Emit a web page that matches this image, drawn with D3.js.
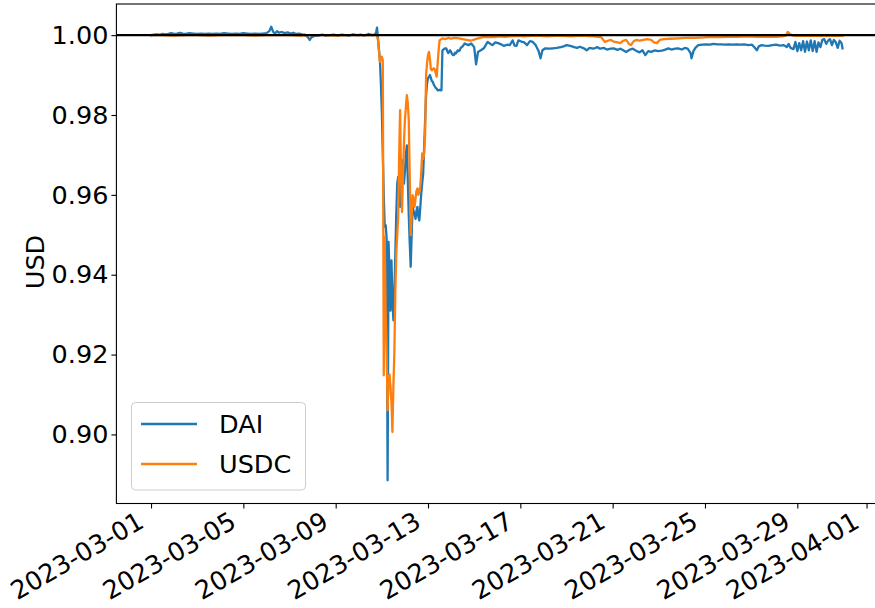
<!DOCTYPE html>
<html>
<head>
<meta charset="utf-8">
<script src="https://cdn.jsdelivr.net/npm/d3@7"></script>
<style>
body {margin: 0; background: #fff;}
text {font-family: "DejaVu Sans", sans-serif;}
</style>
</head>
<body>
<div id="chart"></div>
<script>
// series points: [hours since 2023-03-01 00:00 UTC, price in USD]
const daiPreDip = [[0,1.0000],[3,1.0001],[6,1.0002],[9,1.0001],[12,1.0003],[15,1.0002],[18,1.0003],[21,1.0005],[24,1.0003],[27,1.0004],[30,1.0006],[33,1.0004],[36,1.0003],[40,1.0005],[44,1.0004],[48,1.0003],[52,1.0004],[56,1.0003],[60,1.0004],[64,1.0003],[68,1.0004],[72,1.0003],[76,1.0005],[80,1.0004],[84,1.0003],[88,1.0004],[92,1.0003],[96,1.0005],[100,1.0004],[104,1.0003],[108,1.0004],[112,1.0003],[116,1.0004],[120,1.0005],[123,1.0010],[125,1.0021],[127,1.0008],[129,1.0004],[131,1.0010],[133,1.0006],[136,1.0008],[139,1.0005],[142,1.0007],[145,1.0004],[148,1.0006],[151,1.0003],[154,1.0004],[157,1.0002],[160,1.0001],[163,0.9995],[165,0.9988],[167,0.9995],[170,0.9998],[174,0.9999],[178,1.0001],[182,0.9999],[186,1.0000],[190,1.0001],[194,0.9999],[198,1.0001],[202,1.0000],[206,0.9999],[210,1.0002],[214,1.0000],[218,1.0001],[222,0.9999],[226,1.0003],[229,1.0001],[232,1.0000],[234,1.0006]];
const daiDip = [[235,1.0019],[236,0.9992],[237,0.9965],[238,0.9937],[239,0.9880],[240,0.9808],[241,0.9700],[242,0.9600],[243,0.9520],[244,0.9524],[245,0.9490],[246,0.8885],[247,0.9482],[248,0.9400],[249,0.9310],[250,0.9436],[251,0.9340],[252,0.9286],[253,0.9353],[254,0.9450],[255,0.9550],[256,0.9628],[257,0.9645],[258,0.9600],[259,0.9570],[260,0.9640],[261,0.9687],[262,0.9660],[263,0.9628],[264,0.9660],[265,0.9700],[266,0.9724],[267,0.9637],[268,0.9550],[269,0.9480],[270,0.9420],[271,0.9500],[272,0.9570],[273,0.9560],[274,0.9553],[275,0.9540],[276,0.9560],[277,0.9570],[278,0.9545],[279,0.9536],[280,0.9570],[281,0.9604],[282,0.9630],[283,0.9654],[284,0.9720],[285,0.9787],[286,0.9850],[287,0.9879],[288,0.9892],[289,0.9895],[290,0.9900],[291,0.9893],[292,0.9885],[293,0.9883],[294,0.9876],[295,0.9872],[296,0.9868],[297,0.9866],[298,0.9862],[299,0.9862],[300,0.9863],[301,0.9862],[302,0.9862],[303,0.9962],[304,0.9964],[305,0.9966],[306,0.9967],[307,0.9967],[308,0.9960],[309,0.9955],[310,0.9958],[311,0.9962],[312,0.9958],[313,0.9953],[314,0.9950],[315,0.9950],[316,0.9956],[317,0.9954],[318,0.9958],[319,0.9962],[320,0.9960],[321,0.9962],[322,0.9968],[324,0.9972]];
const daiPostDip = [[326,0.9979],[330,0.9975],[333,0.9979],[336,0.9970],[338,0.9927],[340,0.9958],[343,0.9962],[346,0.9967],[350,0.9983],[353,0.9978],[355,0.9975],[358,0.9982],[361,0.9980],[364,0.9977],[367,0.9973],[370,0.9976],[373,0.9975],[376,0.9987],[378,0.9974],[380,0.9973],[382,0.9987],[385,0.9984],[388,0.9982],[391,0.9975],[394,0.9985],[397,0.9983],[400,0.9975],[403,0.9960],[405,0.9942],[407,0.9962],[410,0.9967],[414,0.9966],[418,0.9967],[422,0.9968],[426,0.9970],[429,0.9972],[432,0.9975],[436,0.9973],[440,0.9970],[443,0.9968],[446,0.9971],[450,0.9967],[453,0.9962],[456,0.9968],[460,0.9966],[464,0.9970],[467,0.9966],[471,0.9968],[474,0.9964],[478,0.9966],[481,0.9967],[485,0.9963],[488,0.9966],[491,0.9962],[494,0.9958],[498,0.9964],[501,0.9966],[505,0.9960],[508,0.9957],[511,0.9962],[514,0.9950],[517,0.9960],[520,0.9958],[524,0.9962],[527,0.9960],[531,0.9961],[534,0.9963],[538,0.9967],[541,0.9964],[545,0.9966],[548,0.9967],[552,0.9964],[555,0.9968],[558,0.9966],[561,0.9955],[562,0.9942],[564,0.9960],[566,0.9968],[569,0.9975],[573,0.9976],[577,0.9977],[581,0.9976],[585,0.9978],[589,0.9977],[593,0.9977],[597,0.9976],[601,0.9977],[605,0.9976],[609,0.9977],[613,0.9976],[617,0.9977],[621,0.9975],[625,0.9976],[628,0.9968],[630,0.9962],[632,0.9972],[635,0.9975],[638,0.9974],[642,0.9973],[646,0.9975],[650,0.9976],[654,0.9974],[658,0.9975],[661,0.9970],[663,0.9978],[665,0.9968],[668,0.9965],[670,0.9983],[672,0.9960],[674,0.9980],[676,0.9962],[678,0.9985],[680,0.9958],[682,0.9984],[684,0.9962],[686,0.9987],[688,0.9960],[690,0.9985],[692,0.9958],[694,0.9982],[696,0.9970],[698,0.9988],[700,0.9990],[702,0.9978],[704,0.9986],[706,0.9990],[708,0.9975],[710,0.9988],[712,0.9982],[714,0.9968],[716,0.9986],[718,0.9980],[719,0.9967]];

const usdcPreDip = [[0,1.0000],[12,1.0000],[24,0.9999],[36,1.0000],[48,1.0000],[60,0.9999],[72,1.0000],[84,1.0000],[96,1.0000],[108,0.9999],[120,1.0000],[132,1.0000],[144,1.0000],[156,0.9999],[168,1.0000],[180,1.0000],[192,0.9999],[204,1.0000],[216,1.0000],[228,1.0000],[234,1.0000]];
const usdcDip = [[235,0.9998],[236,0.9987],[237,0.9960],[238,0.9933],[239,0.9940],[240,0.9946],[241,0.9937],[242,0.9148],[243,0.9495],[244,0.9300],[245,0.9210],[246,0.9060],[247,0.9140],[248,0.9150],[249,0.9119],[250,0.9080],[251,0.9006],[252,0.9120],[253,0.9203],[254,0.9350],[255,0.9454],[256,0.9500],[257,0.9545],[258,0.9700],[259,0.9812],[260,0.9637],[261,0.9557],[262,0.9650],[263,0.9730],[264,0.9787],[265,0.9820],[266,0.9850],[267,0.9830],[268,0.9787],[269,0.9650],[270,0.9499],[271,0.9550],[272,0.9599],[273,0.9590],[274,0.9570],[275,0.9590],[276,0.9610],[277,0.9616],[278,0.9600],[279,0.9610],[280,0.9620],[281,0.9660],[282,0.9704],[283,0.9690],[284,0.9704],[285,0.9750],[286,0.9900],[287,0.9930],[288,0.9950],[289,0.9958],[290,0.9940],[291,0.9915],[292,0.9912],[293,0.9915],[294,0.9917],[295,0.9915],[296,0.9905],[297,0.9896],[298,0.9929],[299,0.9960],[300,0.9987]];
const usdcPostDip = [[303,0.9992],[306,0.9990],[309,0.9993],[312,0.9991],[316,0.9993],[320,0.9992],[324,0.9990],[328,0.9988],[332,0.9986],[336,0.9989],[340,0.9992],[345,0.9995],[350,0.9996],[356,0.9995],[362,0.9997],[368,0.9996],[374,0.9997],[380,0.9998],[388,0.9997],[396,0.9998],[404,0.9998],[412,0.9997],[420,0.9998],[428,0.9998],[436,0.9997],[444,0.9998],[452,0.9998],[460,0.9997],[468,0.9995],[472,0.9983],[475,0.9986],[478,0.9988],[481,0.9984],[485,0.9982],[488,0.9980],[491,0.9986],[494,0.9988],[497,0.9978],[499,0.9975],[502,0.9985],[505,0.9988],[508,0.9986],[512,0.9988],[516,0.9990],[520,0.9988],[523,0.9982],[526,0.9980],[529,0.9988],[533,0.9990],[540,0.9991],[548,0.9992],[556,0.9993],[564,0.9993],[572,0.9994],[580,0.9995],[590,0.9995],[600,0.9996],[610,0.9996],[620,0.9997],[630,0.9996],[640,0.9996],[650,0.9996],[656,0.9997],[660,0.9999],[662,1.0008],[664,1.0004],[666,1.0000],[670,0.9998],[680,0.9998],[690,0.9998],[700,0.9999],[710,0.9998],[719,0.9998]];

const seriesNames = ["DAI", "USDC"];
const seriesColors = ["#1f77b4", "#ff7f0e"];
const xTickLabels = ["2023-03-01","2023-03-05","2023-03-09","2023-03-13","2023-03-17","2023-03-21","2023-03-25","2023-03-29","2023-04-01"];
const yTickValues = [0.90, 0.92, 0.94, 0.96, 0.98, 1.00];
const pegValue = 1.00;

// general dimensions
const W = 875, H = 608;
const ax = {left: 116.4, right: 878.1, top: 4, bottom: 503.5};
const fontSize = 25.5;
const lineWidth = 2.3;

const start = Date.UTC(2023, 2, 1);
const hourToDate = h => new Date(start + h * 3600e3);
const parseDay = d3.utcParse("%Y-%m-%d");

const series = [
  daiPreDip.concat(daiDip, daiPostDip),
  usdcPreDip.concat(usdcDip, usdcPostDip)
];

const x = d3.scaleUtc()
  .domain([new Date(Date.UTC(2023, 1, 27, 12)), new Date(Date.UTC(2023, 3, 1, 12))])
  .range([ax.left, ax.right]);
const y = d3.scaleLinear()
  .domain([0.8827, 1.0078])
  .range([ax.bottom, ax.top]);

const svg = d3.select("#chart").append("svg")
  .attr("width", W)
  .attr("height", H);

svg.append("clipPath").attr("id", "plot-clip")
  .append("rect")
  .attr("x", ax.left).attr("y", ax.top)
  .attr("width", ax.right - ax.left).attr("height", ax.bottom - ax.top);

const line = d3.line()
  .x(d => x(hourToDate(d[0])))
  .y(d => y(d[1]));

const plot = svg.append("g").attr("clip-path", "url(#plot-clip)");
plot.selectAll(".series")
  .data(series)
  .join("path")
  .attr("class", "series")
  .attr("d", line)
  .attr("fill", "none")
  .attr("stroke", (d, i) => seriesColors[i])
  .attr("stroke-width", lineWidth)
  .attr("stroke-linejoin", "round")
  .attr("stroke-linecap", "square");

// peg line
plot.append("line")
  .attr("x1", ax.left).attr("x2", ax.right)
  .attr("y1", y(pegValue)).attr("y2", y(pegValue))
  .attr("stroke", "black")
  .attr("stroke-width", lineWidth);

// spines
svg.append("rect")
  .attr("x", ax.left).attr("y", ax.top)
  .attr("width", ax.right - ax.left).attr("height", ax.bottom - ax.top)
  .attr("fill", "none")
  .attr("stroke", "black")
  .attr("stroke-width", 1.1);

// x axis
const xAxis = svg.append("g")
  .attr("transform", `translate(0,${ax.bottom})`)
  .call(d3.axisBottom(x)
    .tickValues(xTickLabels.map(parseDay))
    .tickFormat(d3.utcFormat("%Y-%m-%d"))
    .tickSize(5)
    .tickSizeOuter(0));
xAxis.select(".domain").remove();
xAxis.selectAll(".tick line").attr("stroke", "black").attr("stroke-width", 1.1);
xAxis.selectAll(".tick text")
  .attr("x", 0).attr("y", 0).attr("dy", null)
  .attr("text-anchor", "end")
  .attr("transform", "translate(-6,23) rotate(-30)")
  .style("font-size", fontSize + "px")
  .attr("fill", "black");

// y axis
const yAxis = svg.append("g")
  .attr("transform", `translate(${ax.left},0)`)
  .call(d3.axisLeft(y)
    .tickValues(yTickValues)
    .tickFormat(d3.format(".2f"))
    .tickSize(5)
    .tickPadding(3)
    .tickSizeOuter(0));
yAxis.select(".domain").remove();
yAxis.selectAll(".tick line").attr("stroke", "black").attr("stroke-width", 1.1);
yAxis.selectAll(".tick text")
  .style("font-size", fontSize + "px")
  .attr("fill", "black");

svg.append("text")
  .attr("transform", `translate(44,262) rotate(-90)`)
  .attr("text-anchor", "middle")
  .style("font-size", fontSize + "px")
  .text("USD");

// legend
const legend = svg.append("g").attr("transform", "translate(131.5,402.5)");
legend.append("rect")
  .attr("width", 174).attr("height", 87.5)
  .attr("rx", 4)
  .attr("fill", "white").attr("fill-opacity", 0.8)
  .attr("stroke", "#cccccc");
const items = legend.selectAll(".item")
  .data(seriesNames)
  .join("g")
  .attr("class", "item")
  .attr("transform", (d, i) => `translate(0,${21.5 + i * 40})`);
items.append("line")
  .attr("x1", 9.5).attr("x2", 65.5)
  .attr("stroke", (d, i) => seriesColors[i])
  .attr("stroke-width", lineWidth);
items.append("text")
  .attr("x", 87.5)
  .attr("dy", "0.36em")
  .style("font-size", fontSize + "px")
  .text(d => d);
</script>
</body>
</html>
